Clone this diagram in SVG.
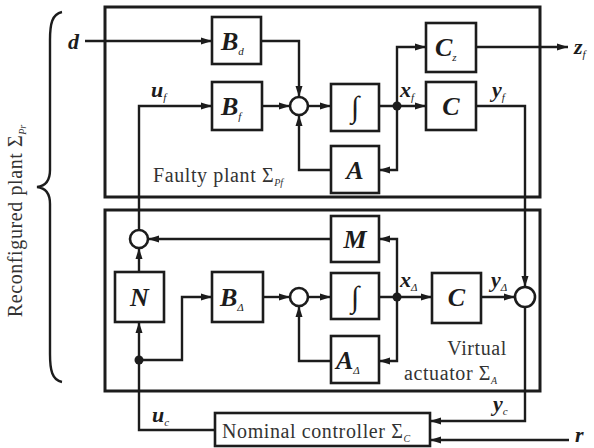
<svg xmlns="http://www.w3.org/2000/svg" width="594" height="448" viewBox="0 0 594 448" font-family="Liberation Serif, DejaVu Serif, serif">
<style>
.frame{fill:none;stroke:#1c1c1c;stroke-width:3}
.blk{fill:#fff;stroke:#1c1c1c;stroke-width:2.6}
.sum{fill:#fff;stroke:#1c1c1c;stroke-width:2.6}
.ln{fill:none;stroke:#1c1c1c;stroke-width:2.4}
.arr{marker-end:url(#ah)}
.dot{fill:#1c1c1c}
.m{font-weight:bold;font-style:italic;fill:#1c1c1c}
.big{font-size:26px}
.lbl{font-size:22px}
.sub{font-size:11px;font-weight:normal;font-style:italic}
.t{font-size:20px;fill:#333;letter-spacing:0.6px}
.ts{font-size:10px;font-style:italic;letter-spacing:0}
.int{font-size:30px;fill:#1c1c1c}
</style>
<defs>
<marker id="ah" markerUnits="userSpaceOnUse" markerWidth="12" markerHeight="8" refX="11" refY="4" orient="auto">
<path d="M0,0.5 L11,4 L0,7.5 z" fill="#1c1c1c"/>
</marker>
</defs>

<g id="frames">
<rect id="faulty-plant" class="frame" x="105" y="7" width="435" height="190"/>
<rect id="virtual-actuator" class="frame" x="105" y="210" width="435" height="181"/>
<path id="brace" d="M62,12 C52,14 50,24 50,40 L50,170 C50,180 46,186 37,187 C46,188 50,194 50,204 L50,354 C50,370 52,380 62,382" fill="none" stroke="#1c1c1c" stroke-width="2.4"/>
</g>

<g id="connectors">
<path class="ln arr" d="M85,41 H212"/>
<path class="ln arr" d="M260,41 H299 V97"/>
<path class="ln arr" d="M139,230 V106 H212"/>
<path class="ln arr" d="M262,106 H290"/>
<path class="ln arr" d="M308,106 H331"/>
<path class="ln arr" d="M379,106 H426"/>
<path class="ln arr" d="M397,106 V47 H426"/>
<path class="ln arr" d="M397,106 V170 H379"/>
<path class="ln arr" d="M331,170 H299 V115"/>
<path class="ln arr" d="M476,47 H568"/>
<path class="ln arr" d="M476,106 H525 V287"/>
<path class="ln arr" d="M331,239 H148"/>
<path class="ln arr" d="M139,272 V248"/>
<path class="ln arr" d="M215,430 H139 V322"/>
<path class="ln arr" d="M139,360 H182 V297 H212"/>
<path class="ln arr" d="M263,297 H290"/>
<path class="ln arr" d="M308,297 H331"/>
<path class="ln arr" d="M379,297 H432"/>
<path class="ln arr" d="M397,297 V239 H379"/>
<path class="ln arr" d="M397,297 V361 H379"/>
<path class="ln arr" d="M331,361 H299 V306"/>
<path class="ln arr" d="M481,297 H515"/>
<path class="ln arr" d="M525,307 V421 H430"/>
<path class="ln arr" d="M569,440 H430"/>
<circle class="dot" cx="397" cy="106" r="4.5"/>
<circle class="dot" cx="397" cy="297" r="4.5"/>
<circle class="dot" cx="139" cy="360" r="4.5"/>
</g>

<g id="Bd"><rect class="blk" x="212" y="17" width="49" height="47"/><text class="m big" x="221" y="50">B<tspan class="sub" dy="5">d</tspan></text></g>
<g id="Bf"><rect class="blk" x="212" y="82" width="50" height="48"/><text class="m big" x="221" y="115">B<tspan class="sub" dy="5">f</tspan></text></g>
<g id="sum1"><circle class="sum" cx="299" cy="106" r="9"/></g>
<g id="int1"><rect class="blk" x="331" y="84" width="48" height="47"/><text class="int" x="355" y="117" text-anchor="middle">∫</text></g>
<g id="Cz"><rect class="blk" x="426" y="23" width="50" height="49"/><text class="m big" x="435" y="56">C<tspan class="sub" dy="5">z</tspan></text></g>
<g id="C1"><rect class="blk" x="426" y="82" width="50" height="48"/><text class="m big" x="451" y="115" text-anchor="middle">C</text></g>
<g id="A"><rect class="blk" x="331" y="146" width="48" height="47"/><text class="m big" x="355" y="179" text-anchor="middle">A</text></g>

<g id="sum2"><circle class="sum" cx="139" cy="239" r="9"/></g>
<g id="M"><rect class="blk" x="331" y="216" width="48" height="46"/><text class="m big" x="355" y="248" text-anchor="middle">M</text></g>
<g id="N"><rect class="blk" x="115" y="272" width="49" height="50"/><text class="m big" x="139.5" y="306" text-anchor="middle">N</text></g>
<g id="BDelta"><rect class="blk" x="212" y="272" width="51" height="50"/><text class="m big" x="220" y="306">B<tspan class="sub" dy="5" font-style="normal">Δ</tspan></text></g>
<g id="sum3"><circle class="sum" cx="299" cy="297" r="9"/></g>
<g id="int2"><rect class="blk" x="331" y="273" width="48" height="46"/><text class="int" x="355" y="307" text-anchor="middle">∫</text></g>
<g id="ADelta"><rect class="blk" x="331" y="336" width="48" height="47"/><text class="m big" x="336" y="369">A<tspan class="sub" dy="5" font-style="normal">Δ</tspan></text></g>
<g id="C2"><rect class="blk" x="432" y="273" width="49" height="50"/><text class="m big" x="456.5" y="306" text-anchor="middle">C</text></g>
<g id="sum4"><circle class="sum" cx="525" cy="297" r="10"/></g>
<g id="controller"><rect class="blk" x="215" y="413" width="215" height="33"/><text class="t" x="222" y="438">Nominal controller Σ<tspan class="ts" dy="4">C</tspan></text></g>

<g id="labels">
<text class="m lbl" x="68" y="49">d</text>
<text class="m lbl" x="151" y="97">u<tspan class="sub" dy="4">f</tspan></text>
<text class="m lbl" x="400" y="97">x<tspan class="sub" dy="4">f</tspan></text>
<text class="m lbl" x="492" y="97">y<tspan class="sub" dy="4">f</tspan></text>
<text class="m lbl" x="574" y="54">z<tspan class="sub" dy="4">f</tspan></text>
<text class="m lbl" x="400" y="287">x<tspan class="sub" dy="4" font-style="normal">Δ</tspan></text>
<text class="m lbl" x="491" y="287">y<tspan class="sub" dy="4" font-style="normal">Δ</tspan></text>
<text class="m lbl" x="493" y="411">y<tspan class="sub" dy="4">c</tspan></text>
<text class="m lbl" x="152" y="422">u<tspan class="sub" dy="4">c</tspan></text>
<text class="m lbl" x="575" y="442">r</text>
<text class="t" x="153" y="182">Faulty plant Σ<tspan class="ts" dy="4">Pf</tspan></text>
<text class="t" x="507" y="355" text-anchor="end">Virtual</text>
<text class="t" x="404" y="380">actuator Σ<tspan class="ts" dy="4">A</tspan></text>
<text class="t" transform="translate(22,221) rotate(-90)" text-anchor="middle" font-size="21">Reconfigured plant Σ<tspan class="ts" dy="4">Pr</tspan></text>
</g>
</svg>
